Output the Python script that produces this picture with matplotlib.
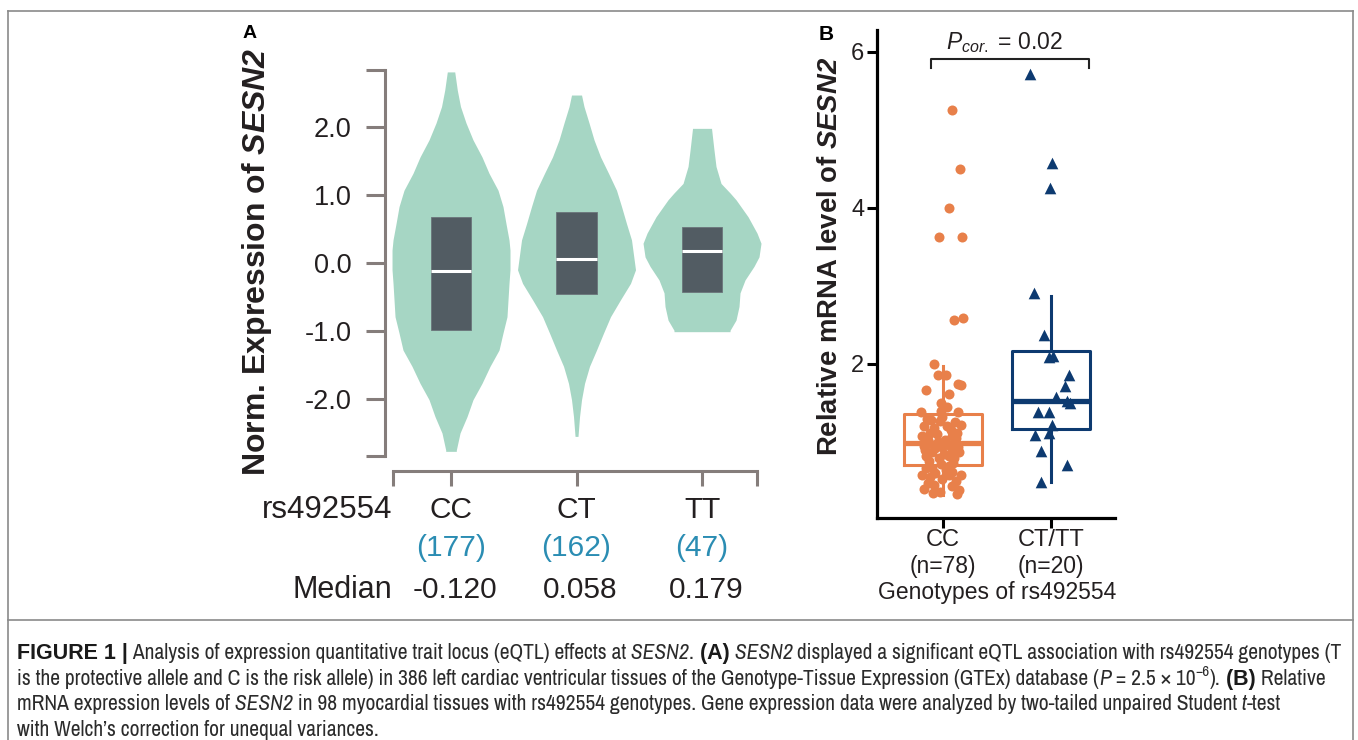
import numpy as np
import matplotlib
matplotlib.use('Agg')
import matplotlib.pyplot as plt
from matplotlib import font_manager
from matplotlib.font_manager import FontProperties
from matplotlib.transforms import blended_transform_factory

plt.rcParams['font.family'] = ['Liberation Sans', 'DejaVu Sans']
plt.rcParams['mathtext.fontset'] = 'custom'
plt.rcParams['mathtext.rm'] = 'Liberation Sans'
plt.rcParams['mathtext.it'] = 'Liberation Sans:italic'
plt.rcParams['mathtext.bf'] = 'Liberation Sans:bold'
plt.rcParams['mathtext.bfit'] = 'Liberation Sans:bold:italic'

# ---- panel A: GTEx violins ----
genotypes = ['CC', 'CT', 'TT']
counts = [177, 162, 47]
medians_a = [-0.120, 0.058, 0.179]
q1_a = [-0.985, -0.46, -0.42]
q3_a = [0.68, 0.755, 0.53]

# violin outlines: y level, relative density (1 = widest)
cc_y = [2.81, 2.54, 2.30, 2.06, 1.81, 1.56, 1.32, 1.07, 0.83, 0.58, 0.34, 0.19, -0.10,
        -0.30, -0.79, -1.03, -1.28, -1.52, -1.77, -2.01, -2.26, -2.50, -2.75, -2.77]
cc_w = [0.063, 0.107, 0.161, 0.254, 0.373, 0.525, 0.644, 0.797, 0.881, 0.932, 0.983, 1.0, 1.0,
        0.983, 0.949, 0.881, 0.814, 0.661, 0.525, 0.373, 0.271, 0.153, 0.09, 0.09]
ct_y = [2.47, 2.30, 2.06, 1.81, 1.56, 1.32, 1.07, 0.83, 0.58, 0.34, -0.10, -0.30, -0.54,
        -0.79, -1.03, -1.28, -1.52, -1.77, -2.01, -2.26, -2.55]
ct_w = [0.085, 0.127, 0.212, 0.297, 0.407, 0.542, 0.678, 0.763, 0.847, 0.932, 1.0, 0.915, 0.746,
        0.576, 0.458, 0.339, 0.220, 0.136, 0.085, 0.051, 0.025]
tt_y = [1.98, 1.66, 1.42, 1.17, 1.03, 0.93, 0.68, 0.44, 0.29, 0.09, -0.05, -0.25, -0.44,
        -0.64, -0.84, -0.99, -1.01]
tt_w = [0.161, 0.203, 0.237, 0.322, 0.475, 0.576, 0.780, 0.932, 1.0, 0.966, 0.881, 0.729, 0.644,
        0.627, 0.576, 0.475, 0.475]
profiles = [(cc_y, cc_w), (ct_y, ct_w), (tt_y, tt_w)]

# ---- panel B: qPCR ----
groups_b = ['CC', 'CT/TT']
n_b = [78, 20]
cc_x = [1.08, 1.16, 1.06, 0.96, 1.18, 1.10, 1.19,
        0.92, 0.95, 1.03, 1.14, 1.17, 0.84, 1.06, 0.98, 0.80, 0.98, 1.14, 1.04,
        0.89, 0.97, 1.17, 0.82, 0.88, 0.94, 0.81, 1.08, 1.12, 0.86, 1.02, 1.07, 0.92, 1.11,
        0.99, 0.85, 1.04, 0.95, 1.13,
        0.87, 1.06, 1.12, 0.82, 0.99, 0.83, 1.08, 0.90, 1.15, 0.84, 1.06, 0.96, 1.10, 0.87,
        1.01, 0.93, 1.14, 0.98, 1.09,
        1.06, 0.84, 0.90, 1.03, 1.08, 0.93, 0.81, 1.06, 1.17, 0.88, 0.99, 1.12, 0.86, 0.92,
        1.08, 0.82, 1.15, 0.97, 0.91, 1.13]
cc_val = [5.25, 4.50, 4.00, 3.63, 3.63, 2.56, 2.59,
          2.00, 1.86, 1.86, 1.74, 1.73, 1.67, 1.62, 1.50, 1.39, 1.40, 1.38, 1.45,
          1.28, 1.27, 1.22, 1.20, 1.12, 1.10, 1.08, 1.07, 1.05, 1.02, 1.03, 1.15, 1.18, 1.25,
          1.32, 1.30, 1.21, 1.00, 1.11,
          0.98, 0.96, 0.97, 0.95, 0.93, 0.90, 0.90, 0.87, 0.87, 0.82, 0.82, 0.79, 0.79, 0.75,
          0.85, 0.92, 0.93, 0.72, 0.73,
          0.69, 0.67, 0.66, 0.64, 0.62, 0.60, 0.57, 0.57, 0.58, 0.55, 0.52, 0.50, 0.47, 0.45,
          0.44, 0.40, 0.38, 0.36, 0.34, 0.33]
ct_x = [1.81, 2.01, 1.99, 1.84, 1.94, 1.98, 2.02, 2.17, 2.13, 2.05, 2.15, 2.18,
        1.88, 1.98, 2.01, 1.85, 1.98, 1.91, 2.15, 1.91]
ct_val = [5.71, 4.57, 4.25, 2.91, 2.37, 2.09, 2.10, 1.86, 1.72, 1.58, 1.52, 1.50,
          1.39, 1.39, 1.22, 1.09, 1.12, 0.88, 0.71, 0.49]
med_b = [0.99, 1.53]
q1_b = [0.705, 1.17]
q3_b = [1.36, 2.17]
lo_b = [0.32, 0.49]
hi_b = [1.97, 2.87]
p_cor = '0.02'

W, H = 1358, 740
fig = plt.figure(figsize=(W / 100, H / 100), dpi=100)


def fx(px):
    return px / W


def fy(py):
    return 1 - py / H


def box(l, t, r, b):
    return [fx(l), fy(b), fx(r) - fx(l), fy(t) - fy(b)]


# frame
for xs, ys in [([8, 8], [11, 740]), ([1353, 1353], [11, 740]), ([8, 1353], [11, 11]), ([8, 1353], [620, 620])]:
    fig.add_artist(plt.Line2D([fx(v) for v in xs], [fy(v) for v in ys], color='#8a8a8a', lw=1.2))

# ---------------- panel A ----------------
gray = '#857d7b'
ax = fig.add_axes(box(385, 66, 757, 471))
ax.set_xlim(-0.526, 2.438)
ax.set_ylim(-3.059, 2.897)
for i, (yy, ww) in enumerate(profiles):
    w = np.array(ww) * 0.47
    ax.fill_betweenx(yy, i - w, i + w, color='#a6d6c4', lw=0, clip_on=False)
x = np.arange(3)
ax.bar(x, np.array(q3_a) - np.array(q1_a), bottom=q1_a, width=0.32, color='#525c63',
       edgecolor='#6b757b', lw=0.6, zorder=3)
ax.hlines(medians_a, x - 0.16, x + 0.16, color='white', lw=2.2, zorder=4)

for s in ['top', 'right']:
    ax.spines[s].set_visible(False)
ax.spines['left'].set_bounds(-2.84, 2.84)
ax.spines['bottom'].set_bounds(-0.462, 2.438)
for s in ['left', 'bottom']:
    ax.spines[s].set_color(gray)
    ax.spines[s].set_linewidth(2.2)
ax.set_yticks([-2, -1, 0, 1, 2], ['-2.0', '-1.0', '0.0', '1.0', '2.0'])
ax.set_yticks([-2.84, 2.84], minor=True)
ax.set_xticks(x, ['', '', ''])
ax.set_xticks([-0.462, 2.438], minor=True)
ax.tick_params(axis='y', which='both', length=14, width=2.2, color=gray, labelsize=19.5,
               pad=10, labelcolor='#231f20')
ax.tick_params(axis='x', which='both', length=11, width=2.2, color=gray)

ta = blended_transform_factory(ax.transData, fig.transFigure)
fs = 21.5
ax.text(-0.47, fy(510), 'rs492554', transform=ta, ha='right', va='center', fontsize=22.5, color='#231f20')
ax.text(-0.47, fy(590), 'Median', transform=ta, ha='right', va='center', fontsize=22, color='#231f20')
for i in range(3):
    ax.text(i, fy(510), genotypes[i], transform=ta, ha='center', va='center', fontsize=fs, color='#231f20')
    ax.text(i, fy(548), f'({counts[i]})', transform=ta, ha='center', va='center', fontsize=fs, color='#2b8db3')
    ax.text(i + 0.03, fy(590), f'{medians_a[i]:.3f}', transform=ta, ha='center', va='center', fontsize=fs,
            color='#231f20')

fig.text(fx(257), fy(262), r'Norm. Expression of $\mathbfit{SESN2}$', rotation=90, fontsize=23,
         fontweight='bold', ha='center', va='center', color='#231f20')
fig.text(fx(250), fy(33), 'A', fontsize=14, fontweight='bold', ha='center', va='center')

# ---------------- panel B ----------------
orange = '#e8804a'
navy = '#0d3a70'
bx = fig.add_axes(box(877, 30, 1115, 518))
bx.set_xlim(0.389, 2.593)
bx.set_ylim(0.025, 6.28)
stats = [dict(med=med_b[i], q1=q1_b[i], q3=q3_b[i], whislo=lo_b[i], whishi=hi_b[i]) for i in range(2)]
cols = [orange, navy]
for i in range(2):
    bx.bxp([stats[i]], positions=[i + 1], widths=0.72, showfliers=False, showcaps=False,
           boxprops=dict(color=cols[i], lw=2.2), whiskerprops=dict(color=cols[i], lw=2.2),
           medianprops=dict(color=cols[i], lw=3.8), manage_ticks=False)
bx.scatter(cc_x, cc_val, s=52, color=orange, lw=0, zorder=4)
bx.scatter(ct_x, ct_val, s=70, marker='^', color=navy, lw=0, zorder=4)

for s in ['top', 'right']:
    bx.spines[s].set_visible(False)
for s in ['left', 'bottom']:
    bx.spines[s].set_linewidth(2.3)
bx.set_yticks([2, 4, 6])
bx.set_xticks([1, 2], ['', ''])
bx.tick_params(axis='both', length=7, width=2.2, labelsize=17, pad=2, labelcolor='#231f20')

tb = blended_transform_factory(bx.transData, fig.transFigure)
for i in range(2):
    bx.text(i + 1, fy(540), groups_b[i], transform=tb, ha='center', va='center', fontsize=17, color='#231f20')
    bx.text(i + 1, fy(567), f'(n={n_b[i]})', transform=tb, ha='center', va='center', fontsize=16.5,
            color='#231f20')
bx.text(1.5, fy(592), 'Genotypes of rs492554', transform=tb, ha='center', va='center', fontsize=16.5,
        color='#231f20')

bx.plot([0.89, 0.89, 2.35, 2.35], [5.79, 5.91, 5.91, 5.79], color='#222222', lw=1.5)
bx.text(1.565, 6.04, r'$P_{cor.}$ = ' + p_cor, ha='center', va='baseline', fontsize=16.5, color='#231f20')

fig.text(fx(830), fy(256), r'Relative mRNA level of $\mathbfit{SESN2}$', rotation=90, fontsize=19.8,
         fontweight='bold', ha='center', va='center', color='#231f20')
fig.text(fx(826), fy(35), 'B', fontsize=15, fontweight='bold', ha='center', va='center')

# ---------------- caption ----------------
# a narrow face looks closer to the journal's condensed caption font, if one is installed
narrow = [f for f in font_manager.fontManager.ttflist
          if f.stretch in ('condensed', 'semi-condensed') or 'Narrow' in f.name or 'Condensed' in f.name]
cap_props = {}
if narrow:
    fam = sorted(set(f.name for f in narrow))[0]
    for f in narrow:
        if f.name != fam:
            continue
        bold = f.weight in ('bold', 700) or (isinstance(f.weight, int) and f.weight >= 600)
        ital = f.style in ('italic', 'oblique')
        key = ('B' if bold else 'N') + ('I' if ital else '')
        cap_props.setdefault(key, f.fname)


def cap_font(kind):
    key = {'normal': 'N', 'bold': 'B', 'italic': 'NI', 'sup': 'N'}[kind]
    if key in cap_props:
        return FontProperties(fname=cap_props[key])
    if 'N' in cap_props and kind != 'bold' and kind != 'italic':
        return FontProperties(fname=cap_props['N'])
    return FontProperties(family=['Liberation Sans', 'DejaVu Sans'],
                          weight='bold' if kind == 'bold' else 'normal',
                          style='italic' if kind == 'italic' else 'normal')


N, B, I, S = 'normal', 'bold', 'italic', 'sup'
lines = [
    [('FIGURE 1 |', B), (' Analysis of expression quantitative trait locus (eQTL) effects at', N),
     (' SESN2', I), ('.', N), (' (A)', B), (' SESN2', I),
     (' displayed a significant eQTL association with rs492554 genotypes (T', N)],
    [('is the protective allele and C is the risk allele) in 386 left cardiac ventricular tissues of the '
      'Genotype-Tissue Expression (GTEx) database (', N), ('P', I), (' = 2.5 \u00d7 10', N), ('\u22126', S),
     (').', N), (' (B)', B), (' Relative', N)],
    [('mRNA expression levels of', N), (' SESN2', I),
     (' in 98 myocardial tissues with rs492554 genotypes. Gene expression data were analyzed by two-tailed '
      'unpaired Student', N), (' t', I), ('-test', N)],
    [('with Welch\u2019s correction for unequal variances.', N)],
]
renderer = fig.canvas.get_renderer()


def draw_line(parts, x0, ybase, size):
    xx = x0
    made = []
    for s, st in parts:
        fp = cap_font(st)
        fp.set_size(size * 0.7 if st == S else size)
        yy = ybase + (size * 0.42 / 72 * 100 / H if st == S else 0)
        t = fig.text(xx, yy, s, fontproperties=fp, color='#1a1a1a' if st == B else '#2b2b2b',
                     va='baseline', ha='left')
        made.append(t)
        xx += t.get_window_extent(renderer).width / W
    return made, xx


probe, xend = draw_line(lines[0], fx(17), fy(659), 12)
for t in probe:
    t.remove()
cap_size = 12 * (fx(1341) - fx(17)) / (xend - fx(17))
for k, parts in enumerate(lines):
    draw_line(parts, fx(17), fy(659 + 25.6 * k), cap_size)

fig.savefig('out.png', dpi=100)
